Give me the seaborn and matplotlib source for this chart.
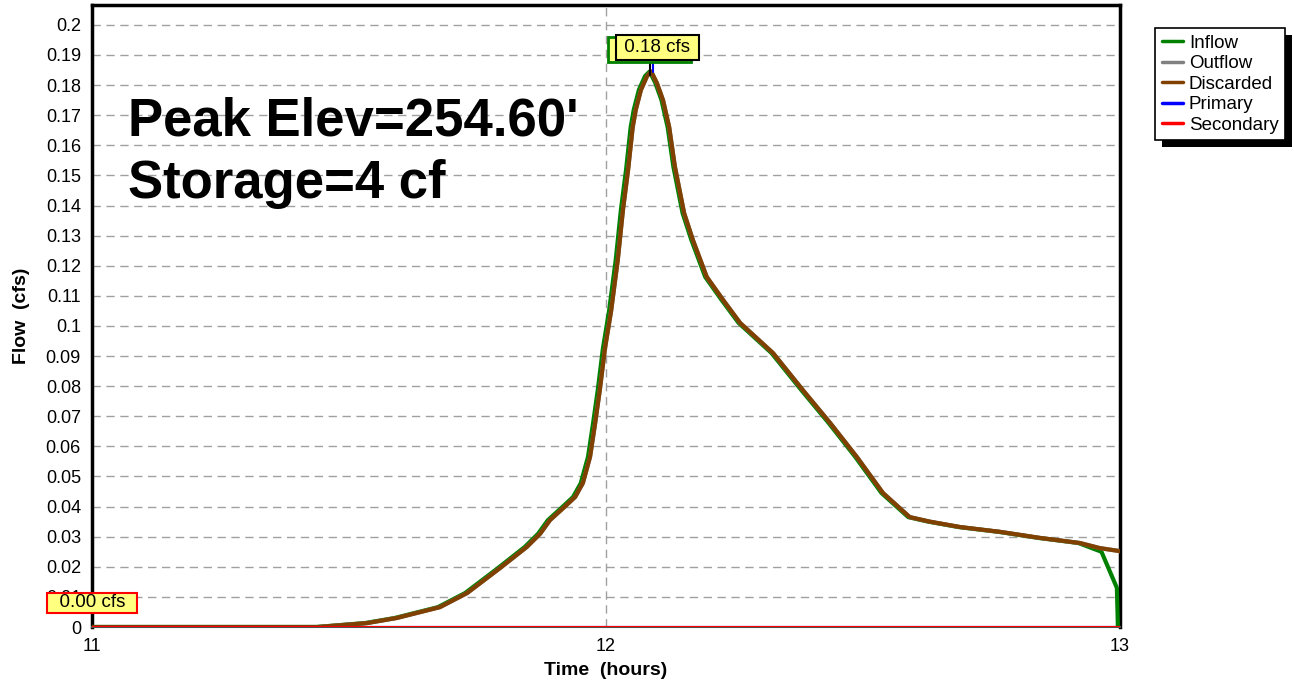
#### HIDROGRAMA - INFLOW / DISCARDED ####

import numpy as np
import pandas as pd
import matplotlib
matplotlib.use('Agg')
import matplotlib.pyplot as plt
import seaborn as sns
from matplotlib.ticker import MultipleLocator
from matplotlib.lines import Line2D
from matplotlib.patches import Rectangle

#### Dados (tempo em horas, vazão em cfs) ####
tempo_discarded = [11.00, 11.44, 11.535, 11.593, 11.677, 11.73, 11.794, 11.846, 11.872, 11.891,
                   11.920, 11.940, 11.955, 11.969, 11.979, 11.988, 11.998, 12.010, 12.023, 12.033,
                   12.043, 12.052, 12.058, 12.068, 12.080, 12.088, 12.099, 12.111, 12.123, 12.134,
                   12.152, 12.169, 12.196, 12.228, 12.261, 12.325, 12.383, 12.436, 12.488, 12.539,
                   12.591, 12.630, 12.689, 12.767, 12.844, 12.922, 12.961, 13.000]
discarded = [0.0, 0.0, 0.0013, 0.003, 0.0066, 0.0113, 0.0196, 0.0266, 0.031, 0.0355,
             0.040, 0.0432, 0.0478, 0.0565, 0.0678, 0.0787, 0.0925, 0.105, 0.122, 0.1385,
             0.1518, 0.166, 0.1718, 0.1784, 0.1830, 0.1845, 0.1807, 0.175, 0.166, 0.153,
             0.1375, 0.1286, 0.1163, 0.1086, 0.101, 0.091, 0.0787, 0.0678, 0.0565, 0.0445,
             0.0365, 0.035, 0.0332, 0.0316, 0.0296, 0.0279, 0.0262, 0.0252]

tempo_inflow = [11.00, 11.436, 11.531, 11.589, 11.673, 11.726, 11.790, 11.842, 11.868, 11.887,
                11.916, 11.936, 11.951, 11.965, 11.975, 11.984, 11.994, 12.006, 12.019, 12.029,
                12.039, 12.048, 12.054, 12.064, 12.076, 12.085, 12.096, 12.108, 12.120, 12.131,
                12.149, 12.166, 12.193, 12.225, 12.258, 12.322, 12.380, 12.433, 12.485, 12.536,
                12.588, 12.627, 12.686, 12.764, 12.841, 12.919, 12.964, 12.994, 12.996]
inflow = [0.0, 0.0, 0.0013, 0.003, 0.0066, 0.0113, 0.0196, 0.0266, 0.031, 0.0355,
          0.040, 0.0432, 0.0478, 0.0565, 0.0678, 0.0787, 0.0925, 0.105, 0.122, 0.1385,
          0.1518, 0.166, 0.1718, 0.1784, 0.1830, 0.1845, 0.1807, 0.175, 0.166, 0.153,
          0.1375, 0.1286, 0.1163, 0.1086, 0.101, 0.091, 0.0787, 0.0678, 0.0565, 0.0445,
          0.0365, 0.035, 0.0332, 0.0316, 0.0296, 0.0279, 0.025, 0.013, 0.0]

tempo_zero = [11.0, 13.0]
primary = [0.0, 0.0]
secondary = [0.0, 0.0]

series = ['Inflow', 'Outflow', 'Discarded', 'Primary', 'Secondary']
cores = ['#008000', '#808080', '#804000', '#0000ff', '#ff0000']

pico_elev = "Peak Elev=254.60'"
armazenamento = "Storage=4 cf"

df_in = pd.DataFrame({'tempo': tempo_inflow, 'vazao': inflow})
df_out = pd.DataFrame({'tempo': tempo_discarded, 'vazao': discarded})
df_zero = pd.DataFrame({'tempo': tempo_zero, 'prim': primary, 'sec': secondary})

#### Estilo ####
sns.set_style('white')
plt.rcParams['font.family'] = ['Liberation Sans', 'DejaVu Sans']
plt.rcParams['text.color'] = 'black'
plt.rcParams['axes.labelcolor'] = 'black'
plt.rcParams['xtick.color'] = 'black'
plt.rcParams['ytick.color'] = 'black'

fig = plt.figure(figsize=(12.94, 6.86), dpi=100)
ax = fig.add_axes([0.0711, 0.086, 0.7944, 0.9067])

#### Curvas ####
sns.lineplot(data=df_in, x='tempo', y='vazao', color=cores[0], lw=3, ax=ax, zorder=3)
sns.lineplot(data=df_out, x='tempo', y='vazao', color=cores[1], lw=3, ax=ax, zorder=3.5)
sns.lineplot(data=df_out, x='tempo', y='vazao', color=cores[2], lw=3, ax=ax, zorder=4)
sns.lineplot(data=df_zero, x='tempo', y='prim', color=cores[3], lw=1.5, ax=ax, zorder=4)
sns.lineplot(data=df_zero, x='tempo', y='sec', color=cores[4], lw=1.5, ax=ax, zorder=4.5)

#### Eixos ####
ax.set_xlim(11, 13)
ax.set_ylim(0, 0.2066)
ax.xaxis.set_major_locator(MultipleLocator(1))
ax.xaxis.set_minor_locator(MultipleLocator(0.2))
ax.yaxis.set_minor_locator(MultipleLocator(0.002))
ax.set_yticks(np.arange(0, 0.2001, 0.01))
ax.set_yticklabels(['0'] + [f'{v:g}' for v in np.round(np.arange(0.01, 0.2001, 0.01), 2)])
ax.tick_params(axis='both', which='major', direction='out', length=5, width=1.2,
               color='#808080', labelcolor='black', labelsize=13, pad=3)
ax.tick_params(axis='both', which='minor', direction='out', length=4, width=1.2, color='#808080')
ax.grid(True, which='major', color='#a0a0a0', linestyle=(0, (6, 4)), linewidth=1)
ax.set_axisbelow(True)
for lado in ['left', 'top', 'right']:
    ax.spines[lado].set_color('black')
    ax.spines[lado].set_linewidth(2.5)
ax.spines['bottom'].set_color('#505050')
ax.spines['bottom'].set_linewidth(1.5)

ax.set_xlabel('Time  (hours)', fontsize=14, fontweight='bold', labelpad=5)
ax.set_ylabel('Flow  (cfs)', fontsize=14, fontweight='bold', labelpad=11)

#### Textos grandes ####
ax.text(0.035, 0.1680, pico_elev, transform=ax.get_yaxis_transform(), fontsize=38,
        fontweight='bold', va='center', ha='left', zorder=6)
ax.text(0.035, 0.1470, armazenamento, transform=ax.get_yaxis_transform(), fontsize=38,
        fontweight='bold', va='center', ha='left', zorder=6)

#### Rótulos de pico ####
pico_t = tempo_discarded[int(np.argmax(discarded))]
pico_v = max(discarded)
ax.plot([pico_t + 0.003, pico_t + 0.003], [pico_v, 0.1885], color=cores[3], lw=1.5, zorder=5)
ax.plot([pico_t - 0.003, pico_t - 0.003], [pico_v - 0.001, 0.1885], color='black', lw=1.5, zorder=5)
rotulo_pico = f' {pico_v:.2f} cfs '
ax.annotate(rotulo_pico, xy=(12.1, 0.1925), xytext=(-8, -2), textcoords='offset pixels',
            ha='center', va='center', fontsize=13.5, color='#ffff80', zorder=6,
            bbox=dict(boxstyle='square,pad=0.2', fc='#ffff80', ec=cores[0], lw=2))
ax.annotate(rotulo_pico, xy=(12.1, 0.1925), ha='center', va='center', fontsize=13.5,
            zorder=7, bbox=dict(boxstyle='square,pad=0.2', fc='#ffff80', ec='black', lw=1.5))
ax.annotate(f'  {min(secondary):.2f} cfs  ', xy=(11.0, 0.008), ha='center', va='center',
            fontsize=13.5, zorder=7, annotation_clip=False,
            bbox=dict(boxstyle='square,pad=0.1', fc='#ffff80', ec=cores[4], lw=1.5))

#### Legenda ####
handles = [Line2D([0], [0], color=c, lw=2.5) for c in cores]
leg = fig.legend(handles, series, loc='upper left', bbox_to_anchor=(0.8926, 0.959),
                 fontsize=13.5, frameon=True, fancybox=False, edgecolor='black',
                 facecolor='white', framealpha=1, handlelength=1.15, handletextpad=0.3,
                 borderpad=0.35, labelspacing=0.18, borderaxespad=0)
leg.get_frame().set_linewidth(1.2)
leg.set_zorder(10)
fig.canvas.draw()
bb = leg.get_window_extent().transformed(fig.transFigure.inverted())
sombra = Rectangle((bb.x0 + 7 / 1294, bb.y0 - 7 / 686), bb.width, bb.height,
                   transform=fig.transFigure, fc='black', ec='none', zorder=1)
fig.patches.append(sombra)

plt.savefig('out.png', dpi=100)
plt.close()
